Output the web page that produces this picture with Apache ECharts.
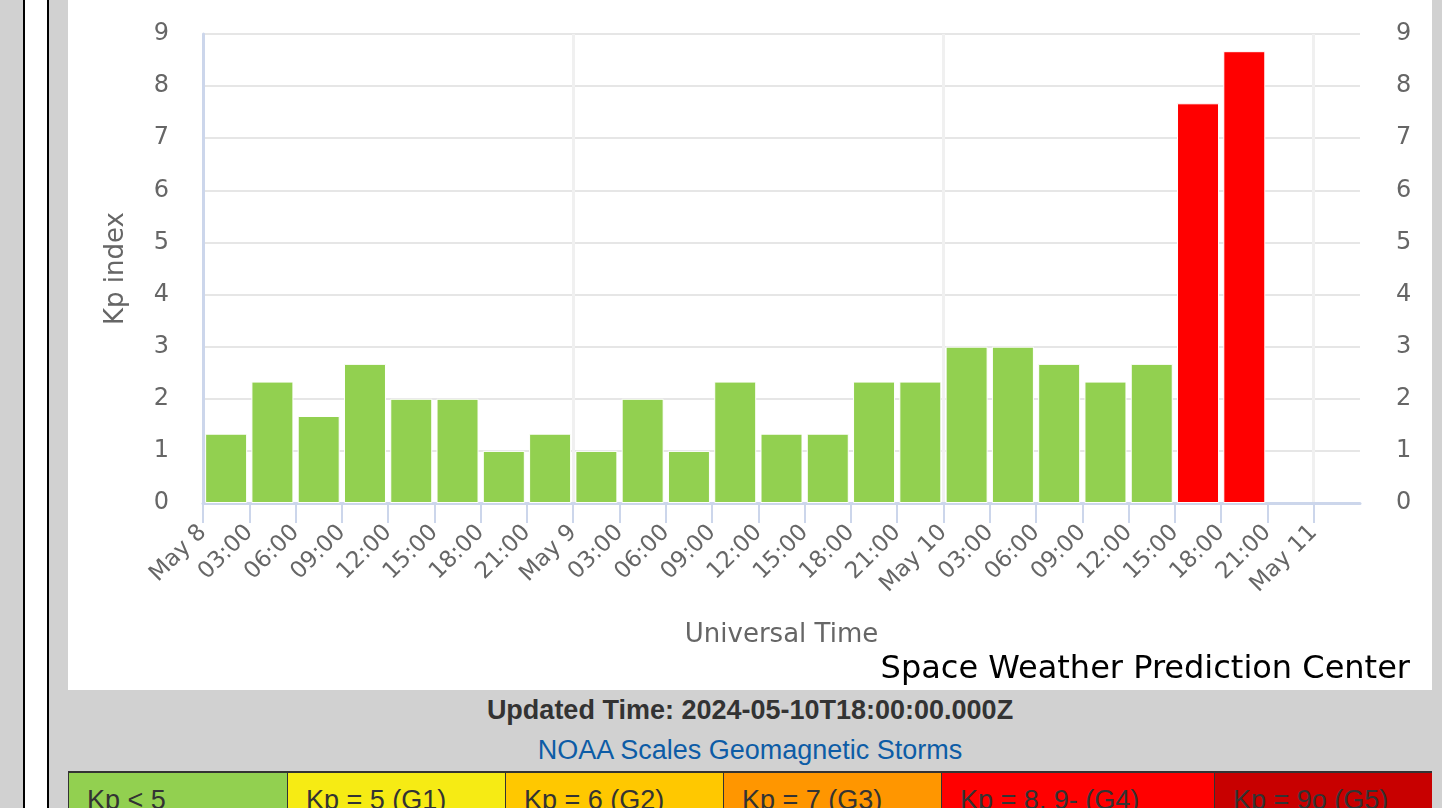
<!DOCTYPE html>
<html>
<head>
<meta charset="utf-8">
<script src="https://cdn.jsdelivr.net/npm/echarts@6/dist/echarts.min.js"></script>
<style>
  html, body { margin: 0; padding: 0; }
  body { width: 1442px; height: 808px; overflow: hidden; background: #d1d1d1; position: relative; font-family: "Liberation Sans", Arial, sans-serif; }
  .vline { position: absolute; top: 0; height: 808px; width: 2px; background: #000; }
  #strip { position: absolute; left: 25px; top: 0; width: 22px; height: 808px; background: #fff; }
  #chart { position: absolute; left: 68px; top: 0; width: 1364px; height: 690px; background: #fff; }
  #updated { position: absolute; left: 68px; width: 1364px; top: 696px; text-align: center; font-weight: bold; font-size: 27px; line-height: 28px; color: #333; }
  #scales { position: absolute; left: 68px; width: 1364px; top: 736px; text-align: center; font-size: 27px; line-height: 28px; color: #0d5ca6; }
  #legend { position: absolute; left: 68px; top: 771px; width: 1364px; height: 70px; border-top: 2px solid #333; display: flex; box-sizing: border-box; }
  #legend div { height: 70px; box-sizing: border-box; border-left: 1px solid #333; padding: 12px 0 0 18px; font-size: 27px; line-height: 30px; color: #333; }
</style>
</head>
<body>
<div class="vline" style="left:23px"></div>
<div id="strip"></div>
<div class="vline" style="left:47px"></div>
<div id="chart"></div>
<div id="updated"></div>
<div id="scales">NOAA Scales Geomagnetic Storms</div>
<div id="legend"></div>
<script>
// ---- data ----
const startTimes = [
  '2024-05-08T00:00Z','2024-05-08T03:00Z','2024-05-08T06:00Z','2024-05-08T09:00Z',
  '2024-05-08T12:00Z','2024-05-08T15:00Z','2024-05-08T18:00Z','2024-05-08T21:00Z',
  '2024-05-09T00:00Z','2024-05-09T03:00Z','2024-05-09T06:00Z','2024-05-09T09:00Z',
  '2024-05-09T12:00Z','2024-05-09T15:00Z','2024-05-09T18:00Z','2024-05-09T21:00Z',
  '2024-05-10T00:00Z','2024-05-10T03:00Z','2024-05-10T06:00Z','2024-05-10T09:00Z',
  '2024-05-10T12:00Z','2024-05-10T15:00Z','2024-05-10T18:00Z'
];
const kpValues = [
  1.33, 2.33, 1.67, 2.67, 2.00, 2.00, 1.00, 1.33,
  1.00, 2.00, 1.00, 2.33, 1.33, 1.33, 2.33, 2.33,
  3.00, 3.00, 2.67, 2.33, 2.67, 7.67, 8.67
];
const yTicks = [0, 1, 2, 3, 4, 5, 6, 7, 8, 9];
const axisStart = '2024-05-08T00:00Z';
const axisEndHours = 75;           // May 11 03:00
const tickStepHours = 3;
const scaleLabels = ['Kp < 5', 'Kp = 5 (G1)', 'Kp = 6 (G2)', 'Kp = 7 (G3)', 'Kp = 8, 9- (G4)', 'Kp = 9o (G5)'];
const scaleThresholds = [0, 4.67, 5.67, 6.67, 7.67, 9.0];
const scaleColors = ['#92d050', '#f6eb14', '#ffc800', '#ff9600', '#ff0000', '#c80000'];
const scaleWidths = [219, 218, 218, 218, 273, 218];
const updatedTime = '2024-05-10T18:00:00.000Z';

// ---- page text ----
document.getElementById('updated').textContent = 'Updated Time: ' + updatedTime;
const legend = document.getElementById('legend');
scaleLabels.forEach((t, i) => {
  const d = document.createElement('div');
  d.textContent = t;
  d.style.background = scaleColors[i];
  d.style.width = scaleWidths[i] + 'px';
  legend.appendChild(d);
});

// ---- chart ----
const t0 = Date.parse(axisStart);
const hoursOf = s => (Date.parse(s) - t0) / 3600000;
function colorFor(v) {
  let c = scaleColors[0];
  for (let i = 0; i < scaleThresholds.length; i++) {
    if (v >= scaleThresholds[i] - 0.005) c = scaleColors[i];
  }
  return c;
}
const barData = startTimes.map((s, i) => ({
  value: [hoursOf(s) + tickStepHours / 2, kpValues[i]],
  itemStyle: { color: colorFor(kpValues[i]) }
}));
const tickVals = [];
for (let h = 0; h < axisEndHours; h += tickStepHours) tickVals.push(h);
const pad = n => (n < 10 ? '0' : '') + n;
function fmtX(v) {
  if (v % 24 === 0) {
    const d = new Date(t0 + v * 3600000);
    return 'May ' + d.getUTCDate();
  }
  return pad(v % 24) + ':00';
}
const FONT = '"DejaVu Sans", sans-serif';
const chart = echarts.init(document.getElementById('chart'), null, { renderer: 'canvas' });
chart.setOption({
  animation: false,
  backgroundColor: '#fff',
  title: {
    text: 'Space Weather Prediction Center',
    right: 17, top: 649,
    textStyle: { fontFamily: FONT, fontSize: 32, fontWeight: 'normal', color: '#000' }
  },
  grid: { left: 135, right: 72, top: 34, bottom: 187 },
  xAxis: [{
    type: 'value', min: 0, max: axisEndHours, interval: tickStepHours,
    name: 'Universal Time', nameLocation: 'middle', nameGap: 119,
    nameTextStyle: { fontFamily: FONT, fontSize: 26, color: '#666' },
    axisLine: { show: true, lineStyle: { color: '#ccd6eb', width: 3 } },
    axisTick: { show: true, length: 20, customValues: tickVals, lineStyle: { color: '#ccd6eb', width: 2 } },
    axisLabel: { rotate: 45, margin: 26, customValues: tickVals, formatter: fmtX, fontFamily: FONT, fontSize: 23, color: '#666' },
    splitLine: { show: false }
  }, {
    type: 'value', min: 0, max: axisEndHours, interval: 24, position: 'bottom',
    axisLine: { show: false }, axisTick: { show: false }, axisLabel: { show: false },
    splitLine: { show: true, showMinLine: false, showMaxLine: false, lineStyle: { color: '#f0f0f0', width: 3 } }
  }],
  yAxis: [{
    type: 'value', min: yTicks[0], max: yTicks[yTicks.length - 1], interval: 1,
    name: 'Kp index', nameLocation: 'middle', nameGap: 74, nameRotate: 90,
    nameTextStyle: { fontFamily: FONT, fontSize: 26, color: '#666' },
    axisLine: { show: true, lineStyle: { color: '#ccd6eb', width: 3 } },
    axisTick: { show: false },
    axisLabel: { margin: 34, fontFamily: FONT, fontSize: 24, color: '#666' },
    splitLine: { show: true, lineStyle: { color: '#e6e6e6', width: 2 } }
  }, {
    type: 'value', position: 'right', min: yTicks[0], max: yTicks[yTicks.length - 1], interval: 1,
    axisLine: { show: false }, axisTick: { show: false },
    axisLabel: { margin: 36, fontFamily: FONT, fontSize: 24, color: '#666' },
    splitLine: { show: false }
  }],
  series: [{
    type: 'bar', xAxisIndex: 0, yAxisIndex: 0,
    barWidth: 42,
    itemStyle: { borderColor: '#fff', borderWidth: 1 },
    data: barData
  }]
});
</script>
</body>
</html>
